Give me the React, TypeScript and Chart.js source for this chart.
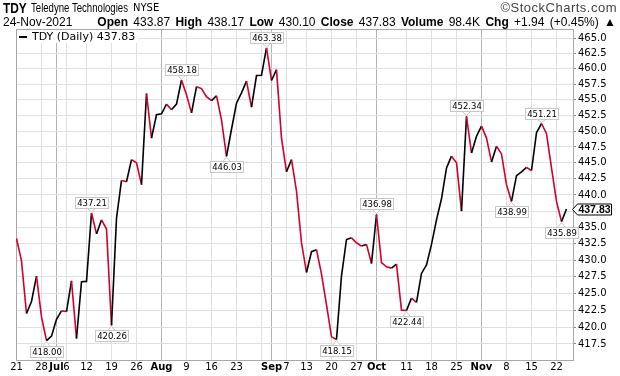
import React, { useEffect, useRef } from "react";
import { Chart, registerables } from "chart.js";

Chart.register(...registerables);

// Daily closes, 21-Jun-2021 .. 24-Nov-2021 (trading days)
const closes = [
  433.3, 429.9, 422.0, 423.8, 427.6, 421.5, 418.0, 418.65, 421.15, 422.4,
  422.3, 426.9, 418.3, 426.75, 426.8, 437.21, 434.0, 436.15, 434.75, 420.26,
  436.4, 442.25, 442.05, 445.5, 445.0, 441.6, 456.0, 448.9, 452.6, 452.75,
  454.3, 453.4, 454.3, 458.18, 455.8, 452.9, 457.1, 456.8, 455.5, 454.85,
  455.65, 451.8, 446.03, 450.3, 454.45, 456.1, 458.0, 453.8, 458.9, 458.95,
  463.38, 458.1, 459.85, 448.9, 443.6, 445.5, 440.6, 432.65, 428.15, 431.3,
  431.6, 427.9, 423.3, 418.55, 418.15, 427.65, 433.15, 433.4, 432.65, 432.15,
  432.4, 429.5, 436.98, 429.65, 429.0, 428.8, 429.4, 422.5, 422.44, 424.3,
  423.65, 428.0, 429.3, 432.4, 436.15, 439.4, 444.2, 446.05, 445.0, 437.5,
  452.34, 446.55, 449.2, 450.8, 448.9, 445.15, 447.6, 446.4, 441.6, 438.99,
  443.0, 443.6, 444.3, 443.8, 449.75, 451.21, 449.6, 444.2, 439.0, 435.89,
  437.83,
];

// x-axis ticks (trading-day index) and their labels
const tickIndex = [0, 5, 8, 10, 14, 19, 24, 29, 34, 39, 44, 49, 51, 54, 58, 63, 68, 72, 78, 83, 88, 93, 98, 103, 108];
const tickText = ["21", "28", "Jul", "6", "12", "19", "26", "Aug", "9", "16", "23", "", "Sep", "7", "13", "20", "27", "Oct", "11", "18", "25", "Nov", "8", "15", "22"];
const monthTicks = [8, 29, 51, 72, 93];

// y-axis ticks
const yTicks = [417.5, 420, 422.5, 425, 427.5, 430, 432.5, 435, 437.5, 440, 442.5, 445, 447.5, 450, 452.5, 455, 457.5, 460, 462.5, 465];

// labelled highs and lows
const peakIdx = [15, 33, 50, 72, 90, 105];
const troughIdx = [6, 19, 42, 64, 78, 99, 109];

const symbol = "TDY";
const company = "Teledyne Technologies";
const exchange = "NYSE";
const lastDate = "24-Nov-2021";

const UP = "#000000";
const DOWN = "#d3002b";

function drawTag(ctx: CanvasRenderingContext2D, px: number, py: number, text: string, above: boolean) {
  ctx.save();
  ctx.font = '8.5px "DejaVu Sans"';
  const tw = ctx.measureText(text).width;
  const w = Math.round(tw + 3);
  const h = 11;
  const gap = 5;
  const bx = Math.round(px - w / 2) + 0.5;
  const by = above ? Math.round(py - gap - h) + 0.5 : Math.round(py + gap) + 0.5;
  ctx.lineWidth = 1;
  ctx.strokeStyle = "#c8c8c8";
  ctx.fillStyle = "#ffffff";
  ctx.beginPath();
  if (above) {
    ctx.moveTo(px - 4, by + h);
    ctx.lineTo(px, py - 1);
    ctx.lineTo(px + 4, by + h);
  } else {
    ctx.moveTo(px - 4, by);
    ctx.lineTo(px, py + 1);
    ctx.lineTo(px + 4, by);
  }
  ctx.closePath();
  ctx.fill();
  ctx.stroke();
  ctx.fillRect(bx, by, w, h);
  ctx.strokeRect(bx, by, w, h);
  ctx.fillStyle = "#000";
  ctx.textAlign = "center";
  ctx.textBaseline = "middle";
  ctx.fillText(text, bx + w / 2, by + h / 2 + 0.5);
  ctx.restore();
}

const overlayPlugin = {
  id: "overlay",
  beforeDatasetsDraw(chart: any) {
    const { ctx, chartArea } = chart;
    ctx.save();
    ctx.strokeStyle = "#a8a8a8";
    ctx.lineWidth = 1;
    ctx.strokeRect(
      Math.round(chartArea.left) + 0.5,
      Math.round(chartArea.top) + 0.5,
      Math.round(chartArea.right - chartArea.left),
      Math.round(chartArea.bottom - chartArea.top)
    );
    ctx.restore();
  },
  afterDatasetsDraw(chart: any) {
    const { ctx } = chart;
    const xs = chart.scales.x;
    const ys = chart.scales.y;
    peakIdx.forEach((i) => {
      drawTag(ctx, xs.getPixelForValue(i), ys.getPixelForValue(closes[i]), closes[i].toFixed(2), true);
    });
    troughIdx.forEach((i) => {
      drawTag(ctx, xs.getPixelForValue(i), ys.getPixelForValue(closes[i]), closes[i].toFixed(2), false);
    });
    // last price tag on the axis
    const last = closes[closes.length - 1];
    const py = Math.round(ys.getPixelForValue(last)) + 0.5;
    const x0 = Math.round(chart.chartArea.right) - 1 + 0.5;
    const bx = x0 + 5;
    const bw = 34;
    const h = 11;
    ctx.save();
    ctx.beginPath();
    ctx.moveTo(x0, py);
    ctx.lineTo(bx, py - h / 2);
    ctx.lineTo(bx + bw, py - h / 2);
    ctx.lineTo(bx + bw, py + h / 2);
    ctx.lineTo(bx, py + h / 2);
    ctx.closePath();
    ctx.fillStyle = "#fff";
    ctx.fill();
    ctx.strokeStyle = "#000";
    ctx.lineWidth = 1;
    ctx.stroke();
    ctx.fillStyle = "#000";
    ctx.font = 'bold 10.5px "Liberation Sans"';
    ctx.textAlign = "center";
    ctx.textBaseline = "middle";
    ctx.fillText(last.toFixed(2), bx + bw / 2, py + 0.5);
    ctx.restore();
  },
};

export default function App() {
  const ref = useRef<HTMLCanvasElement | null>(null);

  useEffect(() => {
    if (!ref.current) return;
    const chart = new Chart(ref.current, {
      type: "line",
      data: {
        datasets: [
          {
            label: "TDY (Daily)",
            data: closes.map((v, i) => ({ x: i, y: v })),
            borderColor: UP,
            borderWidth: 1.6,
            pointRadius: 0,
            tension: 0,
            segment: {
              borderColor: (c: any) => (c.p1.parsed.y < c.p0.parsed.y ? DOWN : UP),
            },
          },
        ],
      },
      options: {
        animation: false,
        responsive: false,
        maintainAspectRatio: false,
        layout: { padding: { left: 16, top: 29, right: 0, bottom: 0 } },
        plugins: { legend: { display: false }, tooltip: { enabled: false } },
        scales: {
          x: {
            type: "linear",
            min: -0.1,
            max: 111.3,
            afterBuildTicks: (s: any) => {
              s.ticks = tickIndex.map((v) => ({ value: v }));
            },
            afterFit: (s: any) => {
              s.height = 16;
            },
            border: { display: false },
            grid: {
              drawTicks: false,
              color: (c: any) => (c.tick && monthTicks.includes(c.tick.value) ? "#b4b4b4" : "#e0e0e0"),
              lineWidth: 1,
            },
            ticks: {
              autoSkip: false,
              maxRotation: 0,
              padding: 1,
              color: "#000",
              font: (c: any) => ({
                family: "DejaVu Sans",
                size: 10,
                weight: c.tick && monthTicks.includes(c.tick.value) ? "bold" : "normal",
              }),
              callback: (v: any) => {
                const k = tickIndex.indexOf(Number(v));
                return k >= 0 ? tickText[k] : "";
              },
            },
          },
          y: {
            type: "logarithmic",
            position: "right",
            min: 415.15,
            max: 466.48,
            afterBuildTicks: (s: any) => {
              s.ticks = yTicks.map((v) => ({ value: v }));
            },
            afterFit: (s: any) => {
              s.width = 47;
            },
            border: { display: false },
            grid: { color: "#e0e0e0", tickLength: 3, tickColor: "#888", lineWidth: 1 },
            ticks: {
              padding: 2,
              color: "#000",
              font: { family: "DejaVu Sans", size: 10 },
              callback: (v: any) => Number(v).toFixed(1),
            },
          },
        },
      },
      plugins: [overlayPlugin],
    } as any);
    return () => chart.destroy();
  }, []);

  const hdr: React.CSSProperties = {
    position: "absolute",
    whiteSpace: "nowrap",
    fontFamily: '"Liberation Sans", Arial, sans-serif',
    color: "#000",
    lineHeight: "14px",
  };

  return (
    <div style={{ position: "fixed", left: 0, top: 0, width: 620, height: 376, background: "#fff", overflow: "hidden" }}>
      <canvas ref={ref} width={620} height={376} style={{ position: "absolute", left: 0, top: 0, width: 620, height: 376 }} />
      <div style={{ ...hdr, left: 3, top: 1, fontSize: 14, fontWeight: "bold", transform: "scaleX(0.85)", transformOrigin: "0 50%" }}>{symbol}</div>
      <div style={{ ...hdr, left: 31, top: 1, fontSize: 12, transform: "scaleX(0.8)", transformOrigin: "0 50%" }}>{company}</div>
      <div style={{ ...hdr, left: 133, top: 1, fontSize: 10, fontFamily: '"DejaVu Sans"' }}>{exchange}</div>
      <div style={{ ...hdr, right: 3, top: 1, fontSize: 13, color: "#444", letterSpacing: 0.5 }}>©StockCharts.com</div>
      <div style={{ ...hdr, left: 3, top: 15, fontSize: 12 }}>{lastDate}</div>
      <div style={{ ...hdr, right: 4, top: 15, fontSize: 12, wordSpacing: 2 }}>
        <b>Open</b> 433.87 <b>High</b> 438.17 <b>Low</b> 430.10 <b>Close</b> 437.83 <b>Volume</b> 98.4K{" "}
        <b>Chg</b> +1.94 (+0.45%) ▲
      </div>
      <div
        style={{
          position: "absolute",
          left: 17,
          top: 30,
          width: 121,
          height: 13,
          background: "#fff",
          fontFamily: '"DejaVu Sans"',
          fontSize: 11,
          lineHeight: "13px",
          whiteSpace: "nowrap",
        }}
      >
        <span style={{ display: "inline-block", width: 8, height: 2, background: "#000", verticalAlign: "middle", margin: "0 5px 0 2px" }} />
        TDY (Daily) 437.83
      </div>
    </div>
  );
}
